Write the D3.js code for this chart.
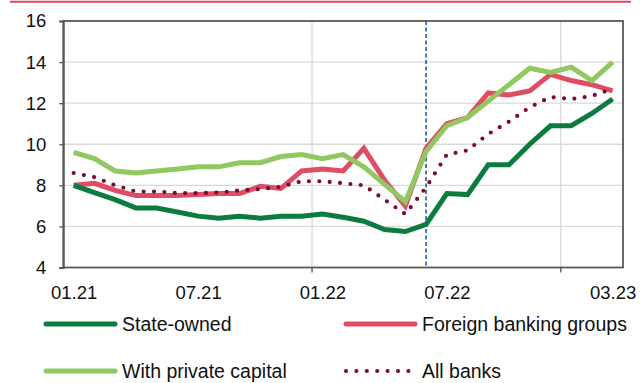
<!DOCTYPE html>
<html><head><meta charset="utf-8">
<script src="https://cdn.jsdelivr.net/npm/d3@7/dist/d3.min.js"></script>
<style>
html,body{margin:0;padding:0;background:#fff;}
svg{display:block;font-family:"Liberation Sans",Arial,sans-serif;}
</style></head>
<body>
<svg id="c" width="640" height="383"></svg>
<script>
const months = ["01.21","02.21","03.21","04.21","05.21","06.21","07.21","08.21","09.21","10.21","11.21","12.21",
"01.22","02.22","03.22","04.22","05.22","06.22","07.22","08.22","09.22","10.22","11.22","12.22",
"01.23","02.23","03.23"];
const stateOwned = [8.0,7.65,7.3,6.9,6.9,6.7,6.5,6.4,6.5,6.4,6.5,6.5,6.6,6.45,6.25,5.85,5.75,6.1,7.6,7.55,9.0,9.0,10.0,10.9,10.9,11.5,12.2];
const foreignGroups = [8.0,8.1,7.75,7.5,7.5,7.5,7.55,7.6,7.6,7.95,7.85,8.7,8.8,8.7,9.8,8.25,7.0,9.8,11.0,11.3,12.5,12.4,12.6,13.4,13.1,12.9,12.6];
const privateCapital = [9.6,9.3,8.7,8.6,8.7,8.8,8.9,8.9,9.1,9.1,9.4,9.5,9.3,9.5,8.9,8.05,7.2,9.65,10.9,11.3,12.1,12.9,13.7,13.5,13.75,13.1,14.0];
const allBanks = [8.6,8.4,8.0,7.7,7.7,7.62,7.62,7.65,7.75,7.82,7.93,8.2,8.2,8.1,8.0,7.3,6.6,7.9,9.5,9.7,10.5,11.1,11.8,12.3,12.2,12.35,12.7];
const xTickLabels = ["01.21","07.21","01.22","07.22","03.23"];
const yTicks = [4,6,8,10,12,14,16];
const yearBreaks = ["01.22","01.23"];
const markerMonth = "06.22";

const series = [
  {name:"State-owned", values:stateOwned, color:"#0c7b3f", dotted:false},
  {name:"Foreign banking groups", values:foreignGroups, color:"#de4d64", dotted:false},
  {name:"With private capital", values:privateCapital, color:"#92c862", dotted:false},
  {name:"All banks", values:allBanks, color:"#7b0a35", dotted:true}
];
const drawOrder = [1,2,0,3];

const svg = d3.select("#c");
const L=63.3, R=623, T=21, B=267.5;
const x = d3.scalePoint().domain(months).range([L,R]).padding(0.5);
const y = d3.scaleLinear().domain([4,16]).range([B,T]);
const step = x.step();

// top red rule
svg.append("line").attr("x1",10).attr("x2",631).attr("y1",1.8).attr("y2",1.8)
  .attr("stroke","#d9485f").attr("stroke-width",2);

// horizontal grid
svg.append("g").selectAll("line").data(yTicks.filter(v=>v>4&&v<16)).join("line")
  .attr("x1",L).attr("x2",R).attr("y1",d=>y(d)).attr("y2",d=>y(d))
  .attr("stroke","#d9d9d9").attr("stroke-width",1.3);
// vertical grid at year breaks
svg.append("g").selectAll("line").data(yearBreaks).join("line")
  .attr("x1",d=>x(d)-step/2).attr("x2",d=>x(d)-step/2).attr("y1",T).attr("y2",B+4)
  .attr("stroke","#d9d9d9").attr("stroke-width",1.3);
svg.append("g").selectAll("line").data(yearBreaks).join("line")
  .attr("x1",d=>x(d)-step/2).attr("x2",d=>x(d)-step/2).attr("y1",B).attr("y2",B+5)
  .attr("stroke","#595959").attr("stroke-width",1.3);

// frame
svg.append("rect").attr("x",L).attr("y",T).attr("width",R-L).attr("height",B-T)
  .attr("fill","none").attr("stroke","#595959").attr("stroke-width",1.8);

// axes
const ya = svg.append("g").attr("transform",`translate(${L},0)`)
  .call(d3.axisLeft(y).tickValues(yTicks).tickSize(4).tickPadding(13).tickFormat(d3.format("d")));
ya.select(".domain").attr("stroke","#595959").attr("stroke-width",1.8);
ya.selectAll(".tick line").attr("stroke","#595959").attr("stroke-width",1.3);
ya.selectAll("text").attr("font-size","18.5px").attr("fill","#111");

const xa = svg.append("g").attr("transform",`translate(0,${B})`)
  .call(d3.axisBottom(x).tickValues(xTickLabels).tickSize(0).tickPadding(18));
xa.select(".domain").remove();
xa.selectAll("text").attr("font-size","18.5px").attr("fill","#111");

// marker dashed line
svg.append("line").attr("x1",x(markerMonth)).attr("x2",x(markerMonth)).attr("y1",T).attr("y2",B)
  .attr("stroke","#1c5fa0").attr("stroke-width",1.6).attr("stroke-dasharray","4,2.5");

// lines
const line = d3.line().x((d,i)=>x(months[i])).y(d=>y(d)).curve(d3.curveLinear);
drawOrder.forEach(k=>{
  const s = series[k];
  const p = svg.append("path").attr("d",line(s.values)).attr("fill","none")
    .attr("stroke",s.color).attr("stroke-linejoin","miter");
  if(s.dotted){
    p.attr("stroke-width",4.2).attr("stroke-linecap","round").attr("stroke-dasharray","0,10.4");
  } else {
    p.attr("stroke-width",5);
  }
});

// legend
const legPos = [[45,324],[345,324],[45,371],[345,371]];
series.forEach((s,i)=>{
  const [lx,ly]=legPos[i];
  const g = svg.append("g");
  const ln = g.append("line").attr("x1",lx+1).attr("x2",lx+70).attr("y1",ly).attr("y2",ly)
    .attr("stroke",s.color).attr("stroke-linecap","round");
  if(s.dotted){ ln.attr("stroke-width",4.2).attr("stroke-dasharray","0,10.4"); }
  else { ln.attr("stroke-width",5); }
  g.append("text").attr("x",lx+77).attr("y",ly).attr("dy","0.34em")
    .attr("font-size","19.5px").attr("fill","#111").text(s.name);
});
</script>
</body></html>
